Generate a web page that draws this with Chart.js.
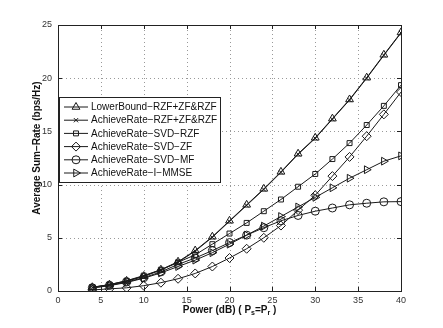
<!DOCTYPE html>
<html>
<head>
<meta charset="utf-8">
<script src="https://cdn.jsdelivr.net/npm/chart.js@4"></script>
<style>
  html, body { margin: 0; padding: 0; background: #fff; }
  #wrap { width: 443px; height: 328px; }
</style>
</head>
<body>
<div id="wrap"><canvas id="myChart" width="443" height="328"></canvas></div>
<script>
// power in dB (Ps = Pr)
const power = [4, 6, 8, 10, 12, 14, 16, 18, 20, 22, 24, 26, 28, 30, 32, 34, 36, 38, 40];

const lowerBound = [0.35, 0.6, 0.95, 1.4, 2.0, 2.75, 3.8, 5.1, 6.6, 8.1, 9.6, 11.2, 12.9, 14.4, 16.2, 18.0, 20.05, 22.2, 24.3];
const achieveRZF = [0.33, 0.58, 0.92, 1.37, 1.97, 2.7, 3.75, 5.05, 6.55, 8.05, 9.55, 11.15, 12.85, 14.35, 16.15, 17.95, 20.0, 22.15, 24.25];
const svdRZF = [0.35, 0.6, 0.97, 1.45, 2.0, 2.7, 3.4, 4.4, 5.4, 6.4, 7.5, 8.6, 9.8, 11.0, 12.4, 13.9, 15.6, 17.4, 19.35];
const svdZF = [0.1, 0.2, 0.3, 0.5, 0.78, 1.15, 1.65, 2.3, 3.1, 3.97, 5.0, 6.15, 7.6, 9.0, 10.8, 12.6, 14.55, 16.6, 18.7];
const svdMF = [0.3, 0.53, 0.85, 1.25, 1.8, 2.5, 3.1, 3.8, 4.55, 5.25, 5.95, 6.6, 7.1, 7.5, 7.8, 8.1, 8.25, 8.38, 8.4];
const iMMSE = [0.28, 0.5, 0.8, 1.2, 1.7, 2.3, 2.9, 3.6, 4.4, 5.25, 6.1, 7.0, 7.9, 8.8, 9.7, 10.6, 11.4, 12.2, 12.7];

const seriesNames = ['LowerBound\u2212RZF+ZF&RZF', 'AchieveRate\u2212RZF+ZF&RZF', 'AchieveRate\u2212SVD\u2212RZF',
  'AchieveRate\u2212SVD\u2212ZF', 'AchieveRate\u2212SVD\u2212MF', 'AchieveRate\u2212I\u2212MMSE'];
const seriesValues = [lowerBound, achieveRZF, svdRZF, svdZF, svdMF, iMMSE];
const markers = ['triangle', 'crossRot', 'rect', 'rectRot', 'circle', 'triangle'];
const markerRot = [0, 0, 0, 0, 0, 90];
const markerSize = [4.5, 3, 3.5, 4.5, 4, 4.5];

const xTicks = [0, 5, 10, 15, 20, 25, 30, 35, 40];
const yTicks = [0, 5, 10, 15, 20, 25];

const fontFam = '"Liberation Sans", Arial, Helvetica, sans-serif';

function makeDatasets() {
  let out = [];
  for (let i = 0; i < seriesNames.length; i++) {
    out.push({
      label: seriesNames[i],
      data: power.map((p, j) => ({ x: p, y: seriesValues[i][j] })),
      borderColor: '#1a1a1a',
      borderWidth: 1,
      backgroundColor: 'rgba(0,0,0,0)',
      pointStyle: markers[i],
      pointRotation: markerRot[i],
      pointRadius: markerSize[i],
      pointBorderColor: '#1a1a1a',
      pointBorderWidth: 1,
      pointBackgroundColor: 'rgba(0,0,0,0)',
      tension: 0
    });
  }
  return out;
}

// dotted grid under the lines
const dottedGrid = {
  id: 'dottedGrid',
  beforeDatasetsDraw(chart) {
    const ctx = chart.ctx;
    const a = chart.chartArea;
    const xs = chart.scales.x, ys = chart.scales.y;
    ctx.save();
    ctx.strokeStyle = '#999';
    ctx.lineWidth = 1;
    ctx.setLineDash([1, 3]);
    ctx.beginPath();
    xTicks.forEach(t => {
      const px = Math.round(xs.getPixelForValue(t)) + 0.5;
      ctx.moveTo(px, a.bottom); ctx.lineTo(px, a.top);
    });
    yTicks.forEach(t => {
      const py = Math.round(ys.getPixelForValue(t)) + 0.5;
      ctx.moveTo(a.left, py); ctx.lineTo(a.right, py);
    });
    ctx.stroke();
    ctx.restore();
  }
};

// draws the axes box, titles and the legend box
const matlabLook = {
  id: 'matlabLook',
  afterDraw(chart) {
    const ctx = chart.ctx;
    const a = chart.chartArea;
    ctx.save();
    ctx.strokeStyle = '#222';
    ctx.lineWidth = 1;
    ctx.strokeRect(Math.round(a.left) + 0.5, Math.round(a.top) + 0.5, Math.round(a.right - a.left), Math.round(a.bottom - a.top));

    // inward ticks
    const xs = chart.scales.x, ys = chart.scales.y;
    ctx.beginPath();
    xTicks.forEach(t => {
      const px = Math.round(xs.getPixelForValue(t)) + 0.5;
      ctx.moveTo(px, a.bottom); ctx.lineTo(px, a.bottom - 4);
      ctx.moveTo(px, a.top); ctx.lineTo(px, a.top + 4);
    });
    yTicks.forEach(t => {
      const py = Math.round(ys.getPixelForValue(t)) + 0.5;
      ctx.moveTo(a.left, py); ctx.lineTo(a.left + 4, py);
      ctx.moveTo(a.right, py); ctx.lineTo(a.right - 4, py);
    });
    ctx.stroke();

    // y title
    ctx.fillStyle = '#111';
    ctx.font = 'bold 10px ' + fontFam;
    ctx.textAlign = 'center';
    ctx.textBaseline = 'middle';
    ctx.save();
    ctx.translate(37, 148);
    ctx.rotate(-Math.PI / 2);
    ctx.fillText('Average Sum\u2212Rate (bps/Hz)', 0, 0);
    ctx.restore();

    // x title with subscripts
    const parts = [['Power (dB) ( P', 10, 0], ['s', 7, 3], ['=P', 10, 0], ['r', 7, 3], [' )', 10, 0]];
    let total = 0;
    parts.forEach(p => { ctx.font = 'bold ' + p[1] + 'px ' + fontFam; total += ctx.measureText(p[0]).width; });
    let x0 = (a.left + a.right) / 2 - total / 2;
    ctx.textAlign = 'left';
    parts.forEach(p => {
      ctx.font = 'bold ' + p[1] + 'px ' + fontFam;
      ctx.fillText(p[0], x0, 310.5 + p[2]);
      x0 += ctx.measureText(p[0]).width;
    });

    // legend
    const lx = 59.5, ly = 97.5, lw = 161, lh = 85;
    ctx.fillStyle = '#fff';
    ctx.fillRect(lx, ly, lw, lh);
    ctx.strokeStyle = '#222';
    ctx.strokeRect(lx, ly, lw, lh);
    ctx.textBaseline = 'middle';
    chart.data.datasets.forEach((ds, i) => {
      const cy = 107 + i * 13.2;
      ctx.strokeStyle = '#1a1a1a';
      ctx.lineWidth = 1;
      ctx.beginPath();
      ctx.moveTo(64, cy); ctx.lineTo(88, cy);
      ctx.stroke();
      ctx.fillStyle = 'rgba(0,0,0,0)';
      Chart.helpers.drawPoint(ctx, {
        pointStyle: ds.pointStyle, rotation: ds.pointRotation, radius: ds.pointRadius, borderWidth: 1
      }, 76, cy);
      ctx.fillStyle = '#111';
      ctx.font = '10px ' + fontFam;
      ctx.fillText(ds.label, 91, cy + 0.5);
    });
    ctx.restore();
  }
};

function createChart() {
  const ctx = document.getElementById('myChart').getContext('2d');
  return new Chart(ctx, {
    type: 'line',
    data: { datasets: makeDatasets() },
    options: {
      responsive: false,
      animation: false,
      layout: { padding: { left: 0, right: 42, top: 25, bottom: 0 } },
      plugins: { legend: { display: false }, tooltip: { enabled: false } },
      scales: {
        x: {
          type: 'linear', min: 0, max: 40,
          afterFit(s) { s.height = 37; },
          afterBuildTicks(s) { s.ticks = xTicks.map(v => ({ value: v })); },
          grid: { display: false, drawTicks: false },
          border: { display: false },
          ticks: { color: '#333', padding: 4, font: { size: 9, family: fontFam }, maxRotation: 0 }
        },
        y: {
          type: 'linear', min: 0, max: 25,
          afterFit(s) { s.width = 58; },
          afterBuildTicks(s) { s.ticks = yTicks.map(v => ({ value: v })); },
          grid: { display: false, drawTicks: false },
          border: { display: false },
          ticks: { color: '#333', padding: 6, font: { size: 9, family: fontFam } }
        }
      }
    },
    plugins: [dottedGrid, matlabLook]
  });
}

createChart();
</script>
</body>
</html>
